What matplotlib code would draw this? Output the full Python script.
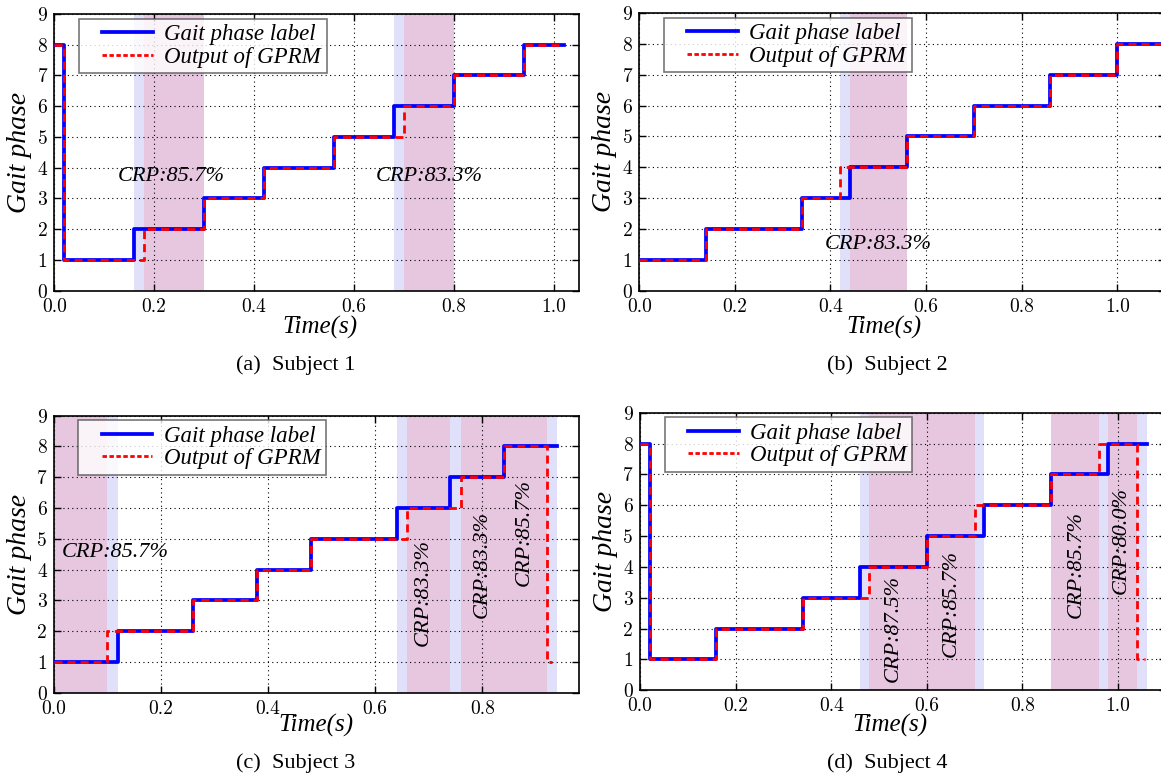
import matplotlib
matplotlib.use("Agg")
import matplotlib.pyplot as plt
from matplotlib.lines import Line2D
from matplotlib.legend_handler import HandlerLine2D
from matplotlib.ticker import FormatStrFormatter

# ---- data (change points of each step trace) ----
a_label_t = [0.00, 0.02, 0.16, 0.30, 0.42, 0.56, 0.68, 0.80, 0.94, 1.02]
a_label_y = [8, 1, 2, 3, 4, 5, 6, 7, 8, 8]
a_out_t = [0.00, 0.02, 0.18, 0.30, 0.42, 0.56, 0.70, 0.80, 0.94, 1.02]
a_out_y = [8, 1, 2, 3, 4, 5, 6, 7, 8, 8]
a_blue = [(0.16, 0.18), (0.68, 0.70)]
a_purple = [(0.18, 0.30), (0.70, 0.80)]
a_crp = [(0.234, 3.7, "CRP:85.7%", 0), (0.751, 3.7, "CRP:83.3%", 0)]

b_label_t = [0.00, 0.14, 0.34, 0.44, 0.56, 0.70, 0.86, 1.00, 1.10]
b_label_y = [1, 2, 3, 4, 5, 6, 7, 8, 8]
b_out_t = [0.00, 0.14, 0.34, 0.42, 0.56, 0.70, 0.86, 1.00, 1.10]
b_out_y = [1, 2, 3, 4, 5, 6, 7, 8, 8]
b_blue = [(0.42, 0.44)]
b_purple = [(0.44, 0.56)]
b_crp = [(0.50, 1.5, "CRP:83.3%", 0)]

c_label_t = [0.00, 0.12, 0.26, 0.38, 0.48, 0.64, 0.74, 0.84, 0.94]
c_label_y = [1, 2, 3, 4, 5, 6, 7, 8, 8]
c_out_t = [0.00, 0.10, 0.26, 0.38, 0.48, 0.66, 0.76, 0.84, 0.92, 0.93]
c_out_y = [1, 2, 3, 4, 5, 6, 7, 8, 1, 1]
c_blue = [(0.10, 0.12), (0.64, 0.66), (0.74, 0.76), (0.92, 0.94)]
c_purple = [(0.00, 0.10), (0.66, 0.74), (0.76, 0.84), (0.84, 0.92)]
c_crp = [(0.115, 4.55, "CRP:85.7%", 0), (0.69, 3.24, "CRP:83.3%", 90),
         (0.80, 4.18, "CRP:83.3%", 90), (0.879, 5.2, "CRP:85.7%", 90)]

d_label_t = [0.00, 0.02, 0.16, 0.34, 0.46, 0.60, 0.72, 0.86, 0.98, 1.06]
d_label_y = [8, 1, 2, 3, 4, 5, 6, 7, 8, 8]
d_out_t = [0.00, 0.02, 0.16, 0.34, 0.48, 0.60, 0.70, 0.86, 0.96, 1.04, 1.056]
d_out_y = [8, 1, 2, 3, 4, 5, 6, 7, 8, 1, 1]
d_blue = [(0.46, 0.48), (0.70, 0.72), (0.96, 0.98), (1.04, 1.06)]
d_purple = [(0.48, 0.60), (0.60, 0.70), (0.86, 0.96), (0.98, 1.04)]
d_crp = [(0.529, 2.0, "CRP:87.5%", 90), (0.651, 2.8, "CRP:85.7%", 90),
         (0.9125, 4.08, "CRP:85.7%", 90), (1.007, 4.86, "CRP:80.0%", 90)]

captions = ["(a)  Subject 1", "(b)  Subject 2", "(c)  Subject 3", "(d)  Subject 4"]

# ---- style ----
plt.rcParams['font.family'] = ['cmr10']
SERIF = 'Liberation Serif'
BLUE_SPAN = '#e0e0fa'
PURPLE_SPAN = '#e7c6e0'

fig = plt.figure(figsize=(11.61, 7.76), dpi=100)

# axes rect, x range, xlabel position (axes coords), caption position (figure coords)
panels = [
    dict(rect=[0.04677, 0.62539, 0.45168, 0.35657], xmax=1.05,
         lt=a_label_t, ly=a_label_y, ot=a_out_t, oy=a_out_y,
         blue=a_blue, purple=a_purple, crp=a_crp,
         xl=(0.507, -0.091), cap=(0.255, 0.530)),
    dict(rect=[0.55064, 0.62539, 0.45288, 0.35786], xmax=1.10,
         lt=b_label_t, ly=b_label_y, ot=b_out_t, oy=b_out_y,
         blue=b_blue, purple=b_purple, crp=b_crp,
         xl=(0.465, -0.092), cap=(0.764, 0.530)),
    dict(rect=[0.04625, 0.10735, 0.45219, 0.35696], xmax=0.98,
         lt=c_label_t, ly=c_label_y, ot=c_out_t, oy=c_out_y,
         blue=c_blue, purple=c_purple, crp=c_crp,
         xl=(0.4996, -0.078), cap=(0.255, 0.0168)),
    dict(rect=[0.55125, 0.11044, 0.45288, 0.35773], xmax=1.10,
         lt=d_label_t, ly=d_label_y, ot=d_out_t, oy=d_out_y,
         blue=d_blue, purple=d_purple, crp=d_crp,
         xl=(0.475, -0.084), cap=(0.764, 0.0168)),
]

for p, cap in zip(panels, captions):
    ax = fig.add_axes(p['rect'])

    # shaded transition windows
    for x0, x1 in p['blue']:
        ax.axvspan(x0, x1, color=BLUE_SPAN, lw=0)
    for x0, x1 in p['purple']:
        ax.axvspan(x0, x1, color=PURPLE_SPAN, lw=0)

    ax.step(p['lt'], p['ly'], where='post', color='#0000ff', lw=2.7, zorder=3)
    ax.step(p['ot'], p['oy'], where='post', color='#ff0000', lw=2.0,
            dashes=(2.9, 1.8), zorder=4)

    for x, y, s, rot in p['crp']:
        ax.text(x, y, s, rotation=rot, ha='center', va='center',
                fontsize=16, fontfamily=SERIF, style='italic', zorder=5)

    ax.set_xlim(0, p['xmax'])
    ax.set_ylim(0, 9)
    ax.set_xticks([t / 10 for t in range(0, 11, 2) if t / 10 <= p['xmax']])
    ax.set_yticks(range(10))
    ax.xaxis.set_major_formatter(FormatStrFormatter('%.1f'))
    ax.tick_params(direction='in', top=True, right=True, length=5, width=1,
                   labelsize=14, pad=5)
    for sp in ax.spines.values():
        sp.set_linewidth(1.2)
    ax.grid(True, color='k', linestyle=(0, (1, 3)), lw=0.8)

    ax.set_xlabel("Time(s)", fontsize=18, fontfamily=SERIF, style='italic')
    ax.xaxis.set_label_coords(*p['xl'])
    ax.set_ylabel("Gait phase", fontsize=20, fontfamily=SERIF, style='italic')
    ax.yaxis.set_label_coords(-0.042, 0.5)

    handles = [Line2D([], [], color='#0000ff', lw=2.7),
               Line2D([], [], color='#ff0000', lw=2.0, dashes=(1.6, 0.9))]
    leg = ax.legend(handles, ["Gait phase label", "Output of GPRM"],
                    loc='upper left', bbox_to_anchor=(0.047, 0.983),
                    borderaxespad=0, fancybox=False, framealpha=0.8,
                    edgecolor='#555555', handlelength=2.97, handletextpad=0.5,
                    borderpad=0.25, labelspacing=0.05,
                    prop=dict(family=SERIF, style='italic', size=16.5),
                    handler_map={Line2D: HandlerLine2D(xpad=0.77)})
    leg.get_frame().set_linewidth(1.2)
    leg.set_zorder(6)

    fig.text(p['cap'][0], p['cap'][1], cap, ha='center', va='center',
             fontsize=16, fontfamily=SERIF)

fig.savefig("out.png", dpi=100)
